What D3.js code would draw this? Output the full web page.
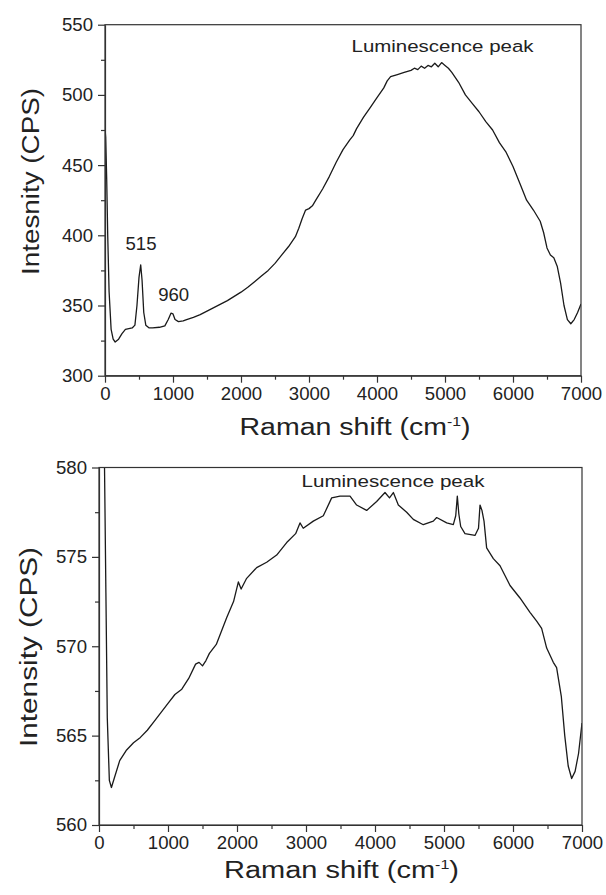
<!doctype html>
<meta charset="utf8">
<style>
  body { margin: 0; background: #fff; }
  svg text { font-family: "Liberation Sans", Arial, sans-serif; fill: #222; }
  .axis path, .axis line { stroke: #333; stroke-width: 1.2; }
  .frame { fill: none; stroke: #333; stroke-width: 1.2; }
  .trace { fill: none; stroke: #1a1a1a; stroke-width: 1.3; stroke-linejoin: round; }
</style>
<body>
<div id="chart"></div>
<script src="https://d3js.org/d3.v7.min.js"></script>
<script>
(function() {

// top spectrum: Raman shift (cm-1), intensity (CPS)
const topShift = [0, 10, 25, 40, 60, 90, 120, 150, 200, 250, 300, 350, 400, 440, 470, 500, 525, 545, 570, 600,
  650, 700, 800, 880, 930, 970, 1000, 1030, 1080, 1150, 1200, 1300, 1400, 1500, 1600, 1700, 1800, 1900, 2000,
  2100, 2200, 2300, 2400, 2500, 2600, 2700, 2800, 2850, 2900, 2950, 3000, 3050, 3100, 3200, 3300, 3400, 3500,
  3600, 3650, 3700, 3800, 3900, 4000, 4100, 4150, 4200, 4300, 4400, 4500, 4550, 4600, 4650, 4700, 4750, 4800,
  4850, 4900, 4950, 5000, 5050, 5100, 5200, 5300, 5400, 5500, 5600, 5700, 5800, 5900, 6000, 6100, 6200, 6300,
  6400, 6450, 6500, 6550, 6600, 6650, 6700, 6750, 6800, 6850, 6900, 6950, 7000];
const topIntensity = [476, 470, 440, 400, 360, 333, 326, 324, 326, 330, 333, 333.5, 334, 336, 350, 370, 379, 368, 345, 336,
  334, 334, 334.5, 335.5, 340, 344.5, 344, 340, 338.5, 339, 340, 341.5, 343.5, 346, 348.5, 351, 353.5, 356.5, 359.5,
  363, 367, 371, 375, 380, 386, 392, 399, 405, 412, 418, 419, 421, 425, 433, 442, 452, 461,
  468, 471, 476, 484, 491, 498, 505, 510, 513, 514.5, 516, 517.5, 519, 518, 520.5, 519, 521, 520,
  522.5, 520, 523, 521, 519, 516, 509, 500, 494, 488, 481, 475, 466, 459, 449, 437, 425, 418,
  410, 402, 391, 386, 384, 378, 366, 350, 340, 337, 340, 345, 351];

// bottom spectrum
const botShift = [0, 50, 80, 100, 120, 150, 180, 220, 300, 400, 500, 600, 700, 800, 900, 1000, 1100, 1200, 1300,
  1400, 1450, 1500, 1550, 1600, 1700, 1850, 1950, 2020, 2060, 2140, 2285, 2430, 2575, 2720, 2850, 2913, 2960,
  3106, 3251, 3372, 3493, 3638, 3734, 3879, 4024, 4145, 4210, 4266, 4338, 4459, 4555, 4700, 4845, 4894, 5039,
  5135, 5170, 5193, 5215, 5242, 5304, 5449, 5500, 5522, 5550, 5580, 5618, 5715, 5812, 5957, 6101, 6246, 6343,
  6415, 6488, 6584, 6632, 6700, 6750, 6800, 6850, 6900, 6950, 7000];
const botIntensity = [595, 586, 580, 573, 566, 562.5, 562.1, 562.6, 563.6, 564.2, 564.6, 564.9, 565.3, 565.8, 566.3, 566.8, 567.3, 567.6, 568.2,
  569.0, 569.1, 568.9, 569.2, 569.6, 570.1, 571.6, 572.5, 573.6, 573.2, 573.8, 574.4, 574.7, 575.1, 575.8, 576.3, 576.9, 576.6,
  577.0, 577.3, 578.3, 578.4, 578.4, 577.9, 577.6, 578.1, 578.6, 578.3, 578.6, 577.9, 577.5, 577.1, 576.8, 577.0, 577.2, 576.9,
  576.8, 577.3, 578.4, 577.4, 576.7, 576.3, 576.2, 576.6, 577.9, 577.6, 577.0, 575.5, 574.9, 574.5, 573.4, 572.7, 571.9, 571.4,
  571.0, 569.9, 569.1, 568.8, 567.2, 565.0, 563.3, 562.6, 563.0, 564.0, 565.7];

const shiftTicks = [0, 1000, 2000, 3000, 4000, 5000, 6000, 7000];
const topTicks = [300, 350, 400, 450, 500, 550];
const botTicks = [560, 565, 570, 575, 580];

const width = 606, height = 895;

const svg = d3.select("#chart").append("svg")
  .attr("width", width)
  .attr("height", height);

// text stretched to a measured length, like the reference's wide lettering
function label(g, text, cx, y, size, len) {
  return g.append("text")
    .attr("x", cx - len / 2).attr("y", y)
    .attr("textLength", len).attr("lengthAdjust", "spacingAndGlyphs")
    .style("font-size", size + "px")
    .text(text);
}

function panel(opts) {
  const {left, right, top, bottom, xDomain, yDomain, yTicks, yMinorStep, shift, intensity, id} = opts;
  const x = d3.scaleLinear().domain(xDomain).range([left, right]);
  const y = d3.scaleLinear().domain(yDomain).range([bottom, top]);
  const g = svg.append("g");

  g.append("clipPath").attr("id", id)
    .append("rect")
    .attr("x", left).attr("y", top)
    .attr("width", right - left).attr("height", bottom - top);

  const points = shift.map((s, i) => [s, intensity[i]]);
  g.append("path")
    .datum(points)
    .attr("class", "trace")
    .attr("clip-path", `url(#${id})`)
    .attr("d", d3.line().x(d => x(d[0])).y(d => y(d[1])));

  const xMinor = d3.range(xDomain[0] + 500, xDomain[1], 1000);
  g.append("g").attr("class", "axis")
    .attr("transform", `translate(0,${bottom})`)
    .call(d3.axisBottom(x).tickValues(xMinor).tickSize(4).tickFormat(""))
    .call(s => s.select(".domain").remove());
  const yMinor = d3.range(yDomain[0] + yMinorStep, yDomain[1], yMinorStep * 2);
  g.append("g").attr("class", "axis")
    .attr("transform", `translate(${left},0)`)
    .call(d3.axisLeft(y).tickValues(yMinor).tickSize(4).tickFormat(""))
    .call(s => s.select(".domain").remove());

  g.append("g").attr("class", "axis")
    .attr("transform", `translate(0,${bottom})`)
    .call(d3.axisBottom(x).tickValues(shiftTicks).tickFormat(d3.format("d"))
      .tickSize(7).tickSizeOuter(0).tickPadding(4))
    .call(s => s.selectAll("text").style("font-size", "18.6px").attr("fill", "#222"));
  g.append("g").attr("class", "axis")
    .attr("transform", `translate(${left},0)`)
    .call(d3.axisLeft(y).tickValues(yTicks).tickFormat(d3.format("d"))
      .tickSize(7).tickSizeOuter(0).tickPadding(5))
    .call(s => s.selectAll("text").style("font-size", "18.6px").attr("fill", "#222"));

  g.append("rect").attr("class", "frame")
    .attr("x", left).attr("y", top)
    .attr("width", right - left).attr("height", bottom - top);

  return {x, y, g};
}

function xTitle(g, cx, y, len) {
  const t = g.append("text")
    .attr("x", cx - len / 2).attr("y", y)
    .attr("textLength", len).attr("lengthAdjust", "spacingAndGlyphs")
    .style("font-size", "23.5px");
  t.append("tspan").text("Raman shift (cm");
  t.append("tspan").attr("dy", -9).style("font-size", "13px").text("-1");
  t.append("tspan").attr("dy", 9).text(")");
}

function yTitle(g, text, cx, cy, len) {
  g.append("text")
    .attr("transform", `translate(${cx},${cy}) rotate(-90)`)
    .attr("x", -len / 2).attr("y", 0)
    .attr("textLength", len).attr("lengthAdjust", "spacingAndGlyphs")
    .style("font-size", "23.5px")
    .text(text);
}

const p1 = panel({
  id: "clip-top", left: 105, right: 581, top: 24.7, bottom: 375.7,
  xDomain: [0, 7000], yDomain: [300, 550], yTicks: topTicks, yMinorStep: 25,
  shift: topShift, intensity: topIntensity
});
xTitle(p1.g, 355, 435, 231);
yTitle(p1.g, "Intesnity (CPS)", 39, 181.5, 187);
label(p1.g, "Luminescence peak", 442.5, 52, 17.2, 182);
p1.g.append("text").attr("x", p1.x(530)).attr("y", 250).attr("text-anchor", "middle")
  .style("font-size", "18.6px").text("515");
p1.g.append("text").attr("x", p1.x(1010)).attr("y", 301).attr("text-anchor", "middle")
  .style("font-size", "18.6px").text("960");

const p2 = panel({
  id: "clip-bot", left: 99, right: 582, top: 467.5, bottom: 825,
  xDomain: [0, 7000], yDomain: [560, 580], yTicks: botTicks, yMinorStep: 2.5,
  shift: botShift, intensity: botIntensity
});
xTitle(p2.g, 341.5, 878, 235);
yTitle(p2.g, "Intensity (CPS)", 37, 647, 200);
label(p2.g, "Luminescence peak", 393, 486.5, 17.2, 183);

})();
</script>
</body>
